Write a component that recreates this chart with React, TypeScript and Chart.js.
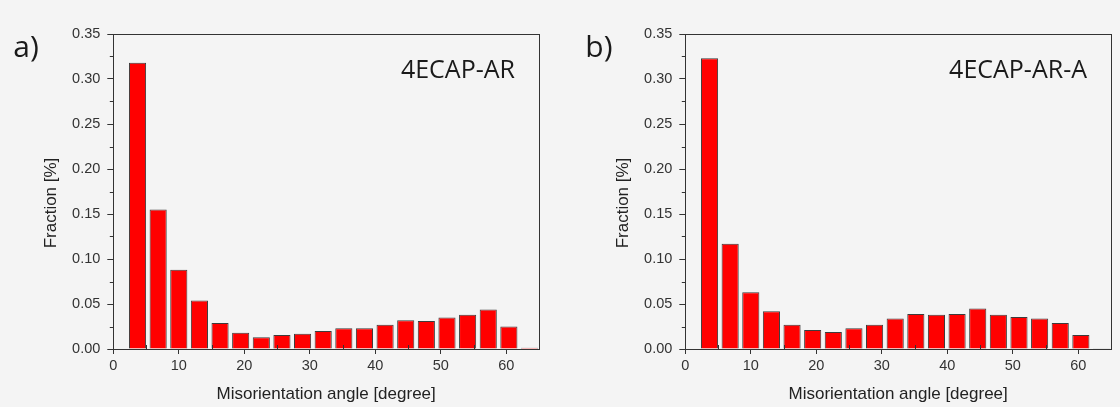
import React, { useEffect, useRef } from "react";
import { Chart, registerables } from "chart.js";
Chart.register(...registerables);

// Bin centres of the misorientation-angle histogram (degrees)
const binCenters = [3.7, 6.85, 10.0, 13.15, 16.3, 19.45, 22.6, 25.75, 28.9, 32.05, 35.2, 38.35, 41.5, 44.65, 47.8, 50.95, 54.1, 57.25, 60.4, 63.55];
// Panel a) 4ECAP-AR
const fractionAR = [0.318, 0.155, 0.088, 0.054, 0.029, 0.018, 0.013, 0.0155, 0.017, 0.020, 0.023, 0.023, 0.027, 0.032, 0.031, 0.035, 0.038, 0.044, 0.025, 0.0015];
// Panel b) 4ECAP-AR-A
const fractionARA = [0.323, 0.117, 0.063, 0.042, 0.027, 0.021, 0.019, 0.023, 0.027, 0.034, 0.039, 0.038, 0.039, 0.045, 0.038, 0.0355, 0.034, 0.029, 0.0155, 0.0008];

const xMinorTicks = [5, 15, 25, 35, 45, 55];
const yMinorTicks = [0.025, 0.075, 0.125, 0.175, 0.225, 0.275, 0.325];
const xAxisTitle = "Misorientation angle [degree]";
const yAxisTitle = "Fraction [%]";

type PanelProps = {
  values: number[];
  label: string;
  title: string;
  padLeft: number;
  padRight: number;
  offsetX: number;
};

function Panel({ values, label, title, padLeft, padRight, offsetX }: PanelProps) {
  const ref = useRef<HTMLCanvasElement | null>(null);
  useEffect(() => {
    if (!ref.current) return;
    const decor = {
      id: "decor",
      afterDraw(chart: any) {
        const { ctx, chartArea, scales } = chart;
        const { left, right, top, bottom } = chartArea;
        const x = scales.x;
        const y = scales.y;
        ctx.save();
        ctx.strokeStyle = "#333";
        ctx.lineWidth = 1;
        ctx.strokeRect(Math.round(left) + 0.5, Math.round(top) + 0.5, Math.round(right - left), Math.round(bottom - top));
        ctx.beginPath();
        for (const v of xMinorTicks) {
          const px = Math.round(x.getPixelForValue(v)) + 0.5;
          ctx.moveTo(px, bottom);
          ctx.lineTo(px, bottom - 4);
        }
        for (const v of yMinorTicks) {
          const py = Math.round(y.getPixelForValue(v)) + 0.5;
          ctx.moveTo(left, py);
          ctx.lineTo(left - 3.5, py);
        }
        ctx.stroke();
        // panel label
        ctx.fillStyle = "#1a1a1a";
        ctx.font = '30px "Open Sans"';
        ctx.textAlign = "left";
        ctx.textBaseline = "alphabetic";
        ctx.fillText(label, left - 100, 57);
        // panel title
        ctx.font = '25px "Open Sans"';
        ctx.textAlign = "right";
        ctx.fillText(title, right - 24, 78);
        // y-axis title
        ctx.save();
        ctx.translate(left - 62, 203);
        ctx.rotate(-Math.PI / 2);
        ctx.font = '17px "Liberation Sans"';
        ctx.fillStyle = "#222";
        ctx.textAlign = "center";
        ctx.textBaseline = "middle";
        ctx.fillText(yAxisTitle, 0, 0);
        ctx.restore();
        ctx.restore();
      },
    };
    const chart = new Chart(ref.current, {
      type: "bar",
      data: {
        datasets: [
          {
            data: binCenters.map((c, i) => ({ x: c, y: values[i] })),
            backgroundColor: "#ff0000",
            borderColor: "#3c3c3c",
            borderWidth: 1,
            barPercentage: 0.83,
            categoryPercentage: 1,
          },
        ],
      },
      options: {
        animation: false,
        responsive: false,
        devicePixelRatio: 1,
        layout: { padding: { left: padLeft, right: padRight, top: 34, bottom: 0 } },
        plugins: { legend: { display: false }, tooltip: { enabled: false } },
        scales: {
          x: {
            type: "linear",
            min: 0,
            max: 65,
            offset: false,
            afterFit: (s: any) => {
              s.height = 58;
            },
            ticks: {
              stepSize: 10,
              includeBounds: false,
              color: "#333",
              font: { family: "Liberation Sans", size: 14.5 },
              padding: 3,
              maxRotation: 0,
            },
            grid: { offset: false, drawOnChartArea: false, drawTicks: true, tickLength: 5, color: "#333" },
            border: { display: true, color: "#333" },
            title: {
              display: true,
              text: xAxisTitle,
              color: "#222",
              font: { family: "Liberation Sans", size: 17 },
              padding: { top: 0, bottom: 2 },
            },
          },
          y: {
            type: "linear",
            min: 0,
            max: 0.35,
            afterFit: (s: any) => {
              s.width = 113.3;
            },
            ticks: {
              stepSize: 0.05,
              color: "#333",
              font: { family: "Liberation Sans", size: 14.5 },
              padding: 7,
              callback: (v: any) => Number(v).toFixed(2),
            },
            grid: { drawOnChartArea: false, drawTicks: true, tickLength: 6, color: "#333" },
            border: { display: true, color: "#333" },
          },
        },
      },
      plugins: [decor],
    } as any);
    return () => chart.destroy();
  }, [values, label, title, padLeft, padRight]);
  return (
    <canvas
      ref={ref}
      width={560}
      height={407}
      style={{ position: "absolute", left: offsetX, top: 0, width: 560, height: 407 }}
    />
  );
}

export default function App() {
  return (
    <div
      style={{
        position: "fixed",
        left: 0,
        top: 0,
        width: 1120,
        height: 407,
        background: "#f4f4f4",
        overflow: "hidden",
      }}
    >
      <Panel values={fractionAR} label="a)" title="4ECAP-AR" padLeft={0} padRight={21} offsetX={0} />
      <Panel values={fractionARA} label="b)" title="4ECAP-AR-A" padLeft={12} padRight={9} offsetX={560} />
    </div>
  );
}
